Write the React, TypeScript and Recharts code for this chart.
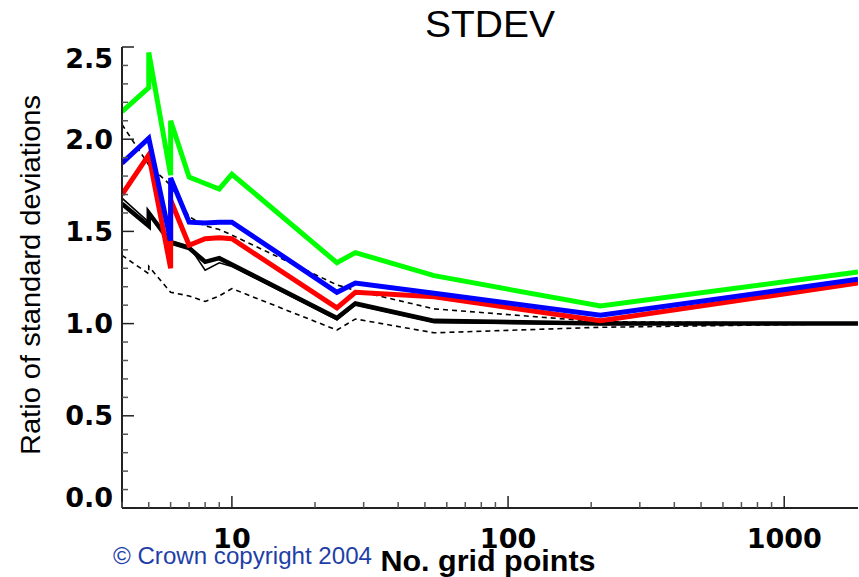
import React from 'react';
import { LineChart, Line, XAxis, YAxis } from 'recharts';

// grid point counts and stdev ratios, one pair of arrays per curve
const GREEN_X = [4, 5, 5, 6, 6, 7, 8, 9, 10, 24, 28, 54, 216, 1850];
const GREEN_Y = [2.15, 2.28, 2.47, 1.805, 2.1, 1.795, 1.76, 1.73, 1.81, 1.33, 1.385, 1.26, 1.095, 1.28];

const BLUE_X = [4, 5, 6, 6, 7, 8, 9, 10, 24, 28, 54, 216, 1850];
const BLUE_Y = [1.87, 2.005, 1.45, 1.79, 1.55, 1.545, 1.55, 1.55, 1.17, 1.22, 1.165, 1.045, 1.24];

const RED_X = [4, 5, 6, 6, 7, 8, 9, 10, 24, 28, 54, 216, 1850];
const RED_Y = [1.7, 1.915, 1.3, 1.67, 1.425, 1.46, 1.465, 1.46, 1.085, 1.17, 1.145, 1.015, 1.22];

const BLACK_X = [4, 5, 5, 6, 7, 8, 9, 10, 24, 28, 54, 216, 1850];
const BLACK_Y = [1.65, 1.53, 1.6, 1.44, 1.41, 1.335, 1.355, 1.32, 1.03, 1.11, 1.015, 1.0, 1.0];
const THIN_Y = [1.68, 1.55, 1.61, 1.45, 1.42, 1.29, 1.33, 1.31, 1.02, 1.1, 1.005, 0.995, 1.0];

const DASH_HI_X = [4, 5, 6, 7, 8, 9, 10, 24, 28, 54, 216, 1850];
const DASH_HI_Y = [2.08, 1.86, 1.75, 1.58, 1.53, 1.51, 1.48, 1.21, 1.18, 1.08, 1.01, 1.0];

const DASH_LO_X = [4, 5, 5, 6, 7, 8, 9, 10, 24, 28, 54, 216, 1850];
const DASH_LO_Y = [1.37, 1.27, 1.31, 1.17, 1.15, 1.12, 1.15, 1.19, 0.965, 1.025, 0.95, 0.98, 1.0];

const X_TICKS = [4, 5, 6, 7, 8, 9, 10, 20, 30, 40, 50, 60, 70, 80, 90, 100, 200, 300, 400, 500, 600, 700, 800, 900, 1000];
const X_LABELS = [10, 100, 1000];
const Y_TICKS = [0, 0.1, 0.2, 0.3, 0.4, 0.5, 0.6, 0.7, 0.8, 0.9, 1.0, 1.1, 1.2, 1.3, 1.4, 1.5, 1.6, 1.7, 1.8, 1.9, 2.0, 2.1, 2.2, 2.3, 2.4, 2.5];
const Y_LABELS = [0, 0.5, 1.0, 1.5, 2.0, 2.5];

const W = 859;
const H = 577;
const LEFT = 122;
const TOP = 47;
const BOTTOM = 508;
const RIGHT = 858;

const FONT = '"Liberation Sans", Arial, Helvetica, sans-serif';
const TICK_FONT = '"DejaVu Sans", Verdana, sans-serif';
const AXIS = '#222';
const TICK = '#555';

const pts = (xs: number[], ys: number[]) => xs.map((x, i) => ({ x, y: ys[i] }));

const isLabelY = (v: number) => Y_LABELS.some((l) => Math.abs(l - v) < 1e-6);

const LeftTick = (props: any) => {
  const { y, payload } = props;
  const v = payload.value;
  const major = isLabelY(v);
  // end labels are pulled inside the axis range
  const dy = v >= 2.5 - 1e-6 ? 11 : v <= 1e-6 ? -11 : 0;
  return (
    <g>
      <line x1={LEFT} x2={LEFT + (major ? 12 : 6)} y1={y} y2={y} stroke={major ? AXIS : TICK} strokeWidth={1.5} />
      {major && (
        <text x={113} y={y + dy} textAnchor="end" dominantBaseline="central" fontFamily={TICK_FONT} fontWeight="bold" fontSize={27} fill="#000">
          {v.toFixed(1)}
        </text>
      )}
    </g>
  );
};

const RightTick = (props: any) => {
  const { y, payload } = props;
  const major = isLabelY(payload.value);
  return <line x1={RIGHT} x2={RIGHT - (major ? 12 : 6)} y1={y} y2={y} stroke={major ? AXIS : TICK} strokeWidth={1.5} />;
};

const BottomTick = (props: any) => {
  const { x, payload } = props;
  const v = payload.value;
  const major = X_LABELS.includes(v);
  return (
    <g>
      <line x1={x} x2={x} y1={BOTTOM} y2={BOTTOM - (major ? 12 : 6)} stroke={major ? AXIS : TICK} strokeWidth={1.5} />
      {major && (
        <text x={x} y={BOTTOM + 30} textAnchor="middle" dominantBaseline="central" fontFamily={TICK_FONT} fontWeight="bold" fontSize={27} fill="#000">
          {v}
        </text>
      )}
    </g>
  );
};

const TopTick = (props: any) => {
  const { x, payload } = props;
  const major = X_LABELS.includes(payload.value);
  return <line x1={x} x2={x} y1={TOP} y2={TOP + (major ? 12 : 6)} stroke={major ? AXIS : TICK} strokeWidth={1.5} />;
};

const App: React.FC = () => {
  return (
    <div style={{ position: 'absolute', left: 0, top: 0, width: W, height: H, background: '#fff' }}>
      <LineChart width={W} height={H} margin={{ top: TOP, right: W - RIGHT, bottom: 0, left: 0 }}>
        <XAxis
          xAxisId="b"
          dataKey="x"
          type="number"
          scale="log"
          domain={[4, 1850]}
          allowDataOverflow
          ticks={X_TICKS}
          interval={0}
          height={H - BOTTOM}
          tick={<BottomTick />}
          tickLine={false}
          axisLine={{ stroke: AXIS, strokeWidth: 2 }}
        />
        <XAxis
          xAxisId="t"
          orientation="top"
          dataKey="x"
          type="number"
          scale="log"
          domain={[4, 1850]}
          allowDataOverflow
          ticks={X_TICKS}
          interval={0}
          height={0}
          tick={<TopTick />}
          tickLine={false}
          axisLine={{ stroke: AXIS, strokeWidth: 2 }}
        />
        <YAxis
          yAxisId="l"
          type="number"
          domain={[0, 2.5]}
          ticks={Y_TICKS}
          interval={0}
          width={LEFT}
          tick={<LeftTick />}
          tickLine={false}
          axisLine={{ stroke: AXIS, strokeWidth: 2 }}
        />
        <YAxis
          yAxisId="r"
          orientation="right"
          type="number"
          domain={[0, 2.5]}
          ticks={Y_TICKS}
          interval={0}
          width={0}
          tick={<RightTick />}
          tickLine={false}
          axisLine={{ stroke: AXIS, strokeWidth: 2 }}
        />

        <Line xAxisId="b" yAxisId="l" data={pts(DASH_HI_X, DASH_HI_Y)} dataKey="y" stroke="#000" strokeWidth={1.6} strokeDasharray="5 4" dot={false} isAnimationActive={false} />
        <Line xAxisId="b" yAxisId="l" data={pts(DASH_LO_X, DASH_LO_Y)} dataKey="y" stroke="#000" strokeWidth={1.6} strokeDasharray="5 4" dot={false} isAnimationActive={false} />
        <Line xAxisId="b" yAxisId="l" data={pts(BLACK_X, THIN_Y)} dataKey="y" stroke="#000" strokeWidth={1.6} dot={false} isAnimationActive={false} />
        <Line xAxisId="b" yAxisId="l" data={pts(BLACK_X, BLACK_Y)} dataKey="y" stroke="#000" strokeWidth={4.5} dot={false} isAnimationActive={false} />
        <Line xAxisId="b" yAxisId="l" data={pts(RED_X, RED_Y)} dataKey="y" stroke="#ff0000" strokeWidth={5} dot={false} isAnimationActive={false} />
        <Line xAxisId="b" yAxisId="l" data={pts(BLUE_X, BLUE_Y)} dataKey="y" stroke="#0000ff" strokeWidth={5} dot={false} isAnimationActive={false} />
        <Line xAxisId="b" yAxisId="l" data={pts(GREEN_X, GREEN_Y)} dataKey="y" stroke="#00ff00" strokeWidth={5} dot={false} isAnimationActive={false} />
      </LineChart>

      <svg width={W} height={H} style={{ position: 'absolute', left: 0, top: 0, pointerEvents: 'none' }}>
        <text x={490} y={37} textAnchor="middle" fontFamily={FONT} fontSize={37} textLength={130} lengthAdjust="spacingAndGlyphs" fill="#000">STDEV</text>
        <text
          transform="translate(40, 275) rotate(-90)"
          textAnchor="middle"
          fontFamily={FONT}
          fontSize={28}
          textLength={360}
          lengthAdjust="spacingAndGlyphs"
          fill="#000"
        >
          Ratio of standard deviations
        </text>
        <text x={113} y={564} fontFamily={FONT} fontSize={23} textLength={259} lengthAdjust="spacingAndGlyphs" fill="#1f3fa8">© Crown copyright 2004</text>
        <text x={488} y={571} textAnchor="middle" fontFamily={FONT} fontWeight="bold" fontSize={29} textLength={215} lengthAdjust="spacingAndGlyphs" fill="#000">No. grid points</text>
      </svg>
    </div>
  );
};

export default App;
